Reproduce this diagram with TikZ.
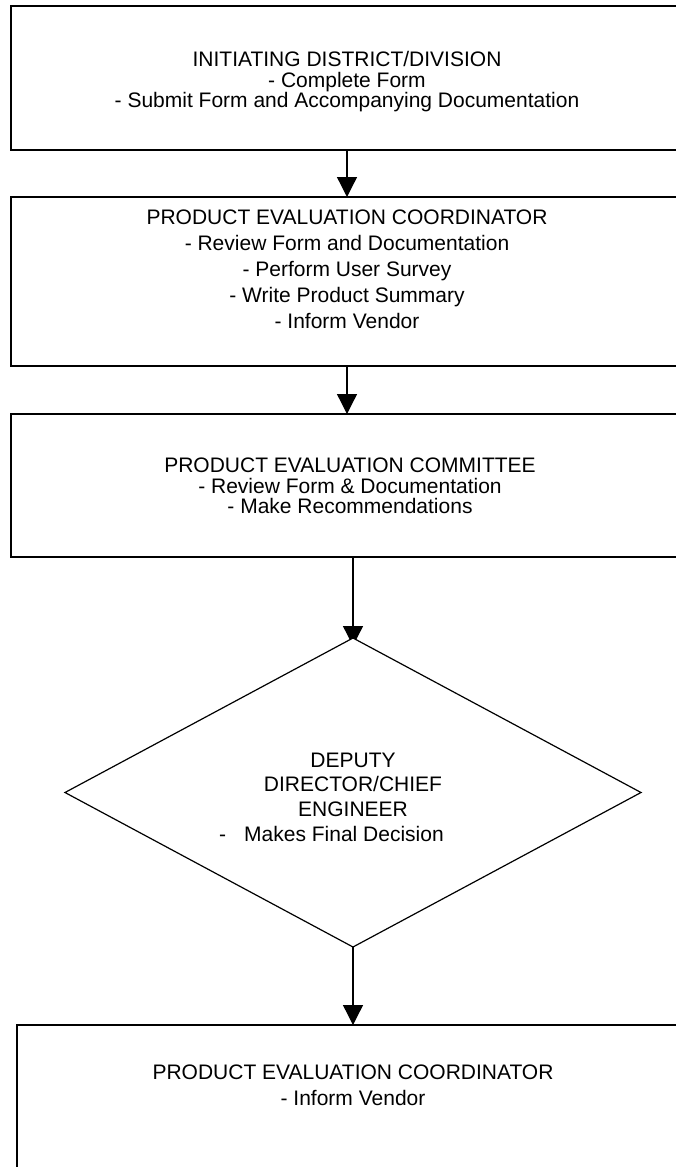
\documentclass[tikz,border=0pt]{standalone}
\usepackage{fontspec}
\setmainfont{Liberation Sans}
\usetikzlibrary{shapes.geometric,arrows.meta}
\begin{document}
\begin{tikzpicture}[x=1pt,y=-1pt,
  stepbox/.style={draw,line width=1.8pt,rectangle,inner sep=0pt,outer sep=0pt},
  decbox/.style={draw,line width=1.2pt,diamond,fill=white,inner sep=0pt,outer sep=0pt,minimum width=576pt,minimum height=309pt},
  lbl/.style={align=center,inner sep=0pt,anchor=base,font=\fontsize{21}{#1}\selectfont},
  arr/.style={line width=1.3pt,-{Triangle[length=20pt,width=20pt]}}]
\useasboundingbox (0,0) rectangle (675,1167);
% boxes
\node[stepbox,minimum width=672pt,minimum height=144pt] (b1) at (347,78) {};
\node[stepbox,minimum width=672pt,minimum height=169pt] (b2) at (347,281.5) {};
\node[stepbox,minimum width=684pt,minimum height=143pt] (b3) at (353,485.5) {};
\node[stepbox,minimum width=672pt,minimum height=200pt] (b4) at (353,1125) {};
% arrows (3rd drawn before diamond so diamond covers tip)
\draw[arr] (b1.south) -- (b2.north);
\draw[arr] (b2.south) -- (b2.south |- b3.north);
\coordinate (c3) at (353,646);
\draw[arr] (b3.south) -- (c3);
\node[decbox] (d) at (353,792.5) {};
\draw[arr] (d.south) -- (b4.north);
% texts (base anchor = baseline of last line)
\node[lbl=20.5pt] (t1) at (347,107.5) {INITIATING DISTRICT/DIVISION\\- Complete Form\\- Submit Form and Accompanying Documentation};
\node[lbl=26pt] (t2) at (347,328.5) {PRODUCT EVALUATION COORDINATOR\\- Review Form and Documentation\\- Perform User Survey\\- Write Product Summary\\- Inform Vendor};
\node[lbl=20.5pt] (t3) at (350,513.5) {PRODUCT EVALUATION COMMITTEE\\- Review Form \& Documentation\\- Make Recommendations};
\node[lbl=24.5pt] (t4) at (353,816) {DEPUTY\\DIRECTOR/CHIEF\\ENGINEER};
\node[lbl=24.5pt,anchor=base west] (t5) at (219,841) {-\hspace{18pt}Makes Final Decision};
\node[lbl=26pt] (t6) at (353,1105.5) {PRODUCT EVALUATION COORDINATOR\\- Inform Vendor};
\end{tikzpicture}
\end{document}
